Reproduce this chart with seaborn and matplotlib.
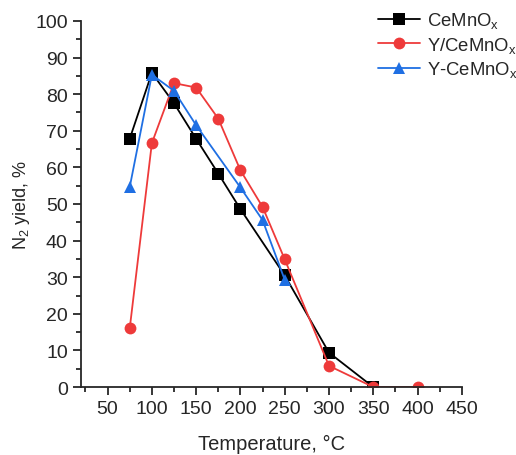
import matplotlib

matplotlib.use("Agg")
import matplotlib.pyplot as plt  # noqa: E402
import pandas as pd              # noqa: E402
import seaborn as sns            # noqa: E402
from matplotlib.ticker import MultipleLocator  # noqa: E402

# values
T_CEMNOX = [75, 100, 125, 150, 175, 200, 250, 300, 350]
Y_CEMNOX = [67.8, 85.8, 77.5, 67.8, 58.3, 48.6, 30.5, 9.4, 0]

T_Y_SLASH = [75, 100, 125, 150, 175, 200, 225, 250, 300, 350, 400]
Y_Y_SLASH = [16.0, 66.6, 83.0, 81.8, 73.3, 59.2, 49.2, 34.9, 5.8, 0, 0]

T_Y_DASH = [75, 100, 125, 150, 200, 225, 250]
Y_Y_DASH = [54.6, 85.3, 80.9, 71.5, 54.5, 45.6, 29.3]

LABELS = ["CeMnO$_\\mathregular{x}$", "Y/CeMnO$_\\mathregular{x}$", "Y-CeMnO$_\\mathregular{x}$"]
COLORS = ["#000000", "#EE3A3A", "#1F6FE3"]
MARKERS = ["s", "o", "^"]
MSIZES = [8, 8.5, 9]

sns.set_style("ticks")
plt.rcParams["font.family"] = ["Liberation Sans", "DejaVu Sans"]
plt.rcParams["mathtext.fontset"] = "custom"
plt.rcParams["mathtext.rm"] = "Liberation Sans"

fig = plt.figure(figsize=(5.16, 4.56), dpi=100)
ax = fig.add_axes([0.157, 0.149, 0.738, 0.803])

series = [(T_CEMNOX, Y_CEMNOX), (T_Y_SLASH, Y_Y_SLASH), (T_Y_DASH, Y_Y_DASH)]
for (t, y), label, color, marker, ms in zip(series, LABELS, COLORS, MARKERS, MSIZES):
    df = pd.DataFrame({"T": t, "y": y})
    sns.lineplot(data=df, x="T", y="y", ax=ax, color=color, marker=marker,
                 markersize=ms, markeredgewidth=0, linewidth=1.3, label=label)

ax.set_xlim(20, 450)
ax.set_ylim(0, 100)
ax.set_xticks(range(50, 451, 50))
ax.xaxis.set_minor_locator(MultipleLocator(25))
ax.yaxis.set_major_locator(MultipleLocator(10))
ax.yaxis.set_minor_locator(MultipleLocator(5))
ax.tick_params(which="major", direction="out", length=6, width=1.3, labelsize=14)
ax.tick_params(which="minor", direction="out", length=3.5, width=1.3)
for side in ("left", "bottom"):
    ax.spines[side].set_linewidth(1.3)
sns.despine(ax=ax)

ax.set_xlabel("Temperature, \u00b0C", fontsize=14.5, labelpad=12)
ax.set_ylabel("N$_\\mathregular{2}$ yield, %", fontsize=13, labelpad=2)

ax.legend(loc="upper left", bbox_to_anchor=(0.76, 1.05), frameon=False,
          fontsize=13.3, handlelength=2.3, handletextpad=0.35, labelspacing=0.25,
          borderaxespad=0)

fig.savefig("out.png", dpi=100)
